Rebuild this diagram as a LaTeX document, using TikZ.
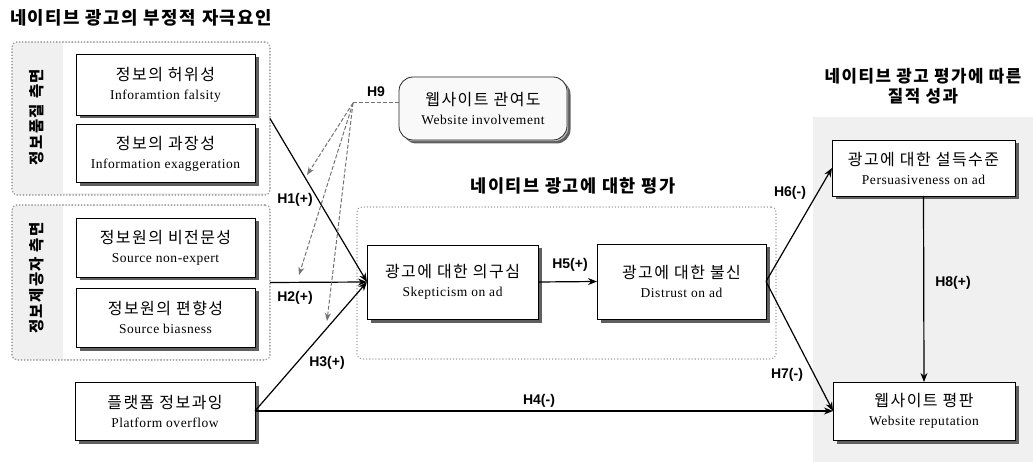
\documentclass[tikz,border=0pt]{standalone}
\usepackage{fontspec}
\setmainfont{Liberation Serif}
\newfontfamily\kr{Noto Sans CJK KR}[LetterSpace=9]
\newfontfamily\en{Liberation Serif}[LetterSpace=4]
\newfontfamily\hs{Liberation Sans}
\usetikzlibrary{arrows.meta,shadows}
\definecolor{panel}{RGB}{240,240,240}
\definecolor{dashc}{RGB}{115,115,115}
\definecolor{shade}{RGB}{95,95,95}
\newcommand\bx[2]{{\kr\fontsize{16}{19}\selectfont #1}\\[7pt]{\en\fontsize{13.5}{16}\selectfont #2}}
\begin{document}
\begin{tikzpicture}[x=1pt,y=-1pt,
  every node/.style={inner sep=0pt, outer sep=0pt},
  box/.style={draw=black, line width=0.8pt, fill=white, align=center,
     drop shadow={shadow xshift=3.5pt, shadow yshift=-3.5pt, fill=shade, opacity=1}},
  grp/.style={draw=gray!75, dotted, line width=1.1pt, rounded corners=5pt},
  ttl/.style={font=\kr\bfseries\fontsize{17.8}{21}\selectfont, align=center},
  side/.style={font=\kr\bfseries\fontsize{15.5}{18}\selectfont, rotate=90},
  hlab/.style={font=\hs\bfseries\fontsize{14}{16}\selectfont},
  arr/.style={draw=black, line width=1.2pt, -{Stealth[length=9pt,width=7pt]}},
  darr/.style={draw=dashc, line width=1pt, dash pattern=on 4pt off 2pt, -{Stealth[length=8pt,width=6pt]}},
  dline/.style={draw=dashc, line width=1pt, dash pattern=on 4pt off 2pt},
]
\useasboundingbox (0,0) rectangle (1033,462);
% right panel
\fill[panel] (813,117) rectangle (1033,462);
% titles
\node[ttl, anchor=west] (t1) at (10,18) {네이티브 광고의 부정적 자극요인};
\node[ttl, font=\kr\bfseries\fontsize{17.5}{20}\selectfont] (t2) at (573,186) {네이티브 광고에 대한 평가};
\node[ttl, font=\kr\bfseries\fontsize{16.8}{20}\selectfont] (t3) at (923,86) {네이티브 광고 평가에 따른\\질적 성과};
% group boxes
\node[grp, fill=panel, minimum width=258pt, minimum height=153pt] (grp1) at (141,118.5) {};
\fill[white] (63,43.5) rectangle (268.5,193.5);
\node[grp, minimum width=258pt, minimum height=153pt] at (141,118.5) {};
\node[grp, fill=panel, minimum width=258pt, minimum height=155pt] (grp2) at (141,282.5) {};
\fill[white] (63,206.5) rectangle (268.5,358.5);
\node[grp, minimum width=258pt, minimum height=155pt] at (141,282.5) {};
\node[grp, fill=white, minimum width=419pt, minimum height=152pt] (ev) at (566.5,283) {};
\node[side] (sd1) at (37,117) {정보품질 측면};
\node[side] (sd2) at (37,278) {정보제공자 측면};
% boxes
\node[box, minimum width=179pt, minimum height=61pt] (f1) at (165.5,84.5) {\bx{정보의 허위성}{Inforamtion falsity}};
\node[box, minimum width=179pt, minimum height=58pt] (f2) at (165.5,153.5) {\bx{정보의 과장성}{Information exaggeration}};
\node[box, minimum width=179pt, minimum height=59pt] (s1) at (165.5,247.5) {\bx{정보원의 비전문성}{Source non-expert}};
\node[box, minimum width=179pt, minimum height=59pt] (s2) at (165.5,317.5) {\bx{정보원의 편향성}{Source biasness}};
\node[box, minimum width=180pt, minimum height=58pt] (plat) at (165,411) {\bx{플랫폼 정보과잉}{Platform overflow}};
\node[box, minimum width=171pt, minimum height=74pt] (skep) at (452.5,282) {\bx{광고에 대한 의구심}{Skepticism on ad}};
\node[box, minimum width=169pt, minimum height=75pt] (dist) at (681.5,281.5) {\bx{광고에 대한 불신}{Distrust on ad}};
\node[box, minimum width=183pt, minimum height=56pt] (pers) at (923.5,168) {\bx{광고에 대한 설득수준}{Persuasiveness on ad}};
\node[box, minimum width=182pt, minimum height=58pt] (rep) at (924,411) {\bx{웹사이트 평판}{Website reputation}};
\node[box, rounded corners=14pt, fill=gray!5, draw=black!85,
  drop shadow={shadow xshift=1.2pt, shadow yshift=-1.2pt, fill=gray!45, opacity=1},
  minimum width=168pt, minimum height=63pt] (inv) at (483,108.5) {\bx{웹사이트 관여도}{Website involvement}};
% connectors
\draw[arr] (grp1.east) -- (skep.west);
\draw[arr] (grp2.east) -- (skep.west);
\draw[arr] (plat.east) -- (skep.west);
\draw[arr] (plat.east) -- (rep.west);
\draw[arr] (skep.east) -- (dist.west);
\draw[arr] (dist.east) -- (pers.west);
\draw[arr] (dist.east) -- (rep.west);
\draw[arr] (pers.south) -- (rep.north);
% moderator
\coordinate (h9) at (353,103);
\coordinate (d1) at (307,175);
\coordinate (d2) at (299,275);
\coordinate (d3) at (327,321);
\draw[dline] (h9) -- (h9 -| inv.west);
\draw[darr] (h9) -- (d1);
\draw[darr] (h9) -- (d2);
\draw[darr] (h9) -- (d3);
% labels
\node[hlab] (l1) at (295,200) {H1(+)};
\node[hlab] (l2) at (295,298) {H2(+)};
\node[hlab] (l3) at (327,363) {H3(+)};
\node[hlab] (l4) at (539,401) {H4(-)};
\node[hlab] (l5) at (570,265) {H5(+)};
\node[hlab] (l6) at (790,193) {H6(-)};
\node[hlab] (l7) at (787,375) {H7(-)};
\node[hlab] (l8) at (953,283) {H8(+)};
\node[hlab] (l9) at (376,92) {H9};
\end{tikzpicture}
\end{document}
